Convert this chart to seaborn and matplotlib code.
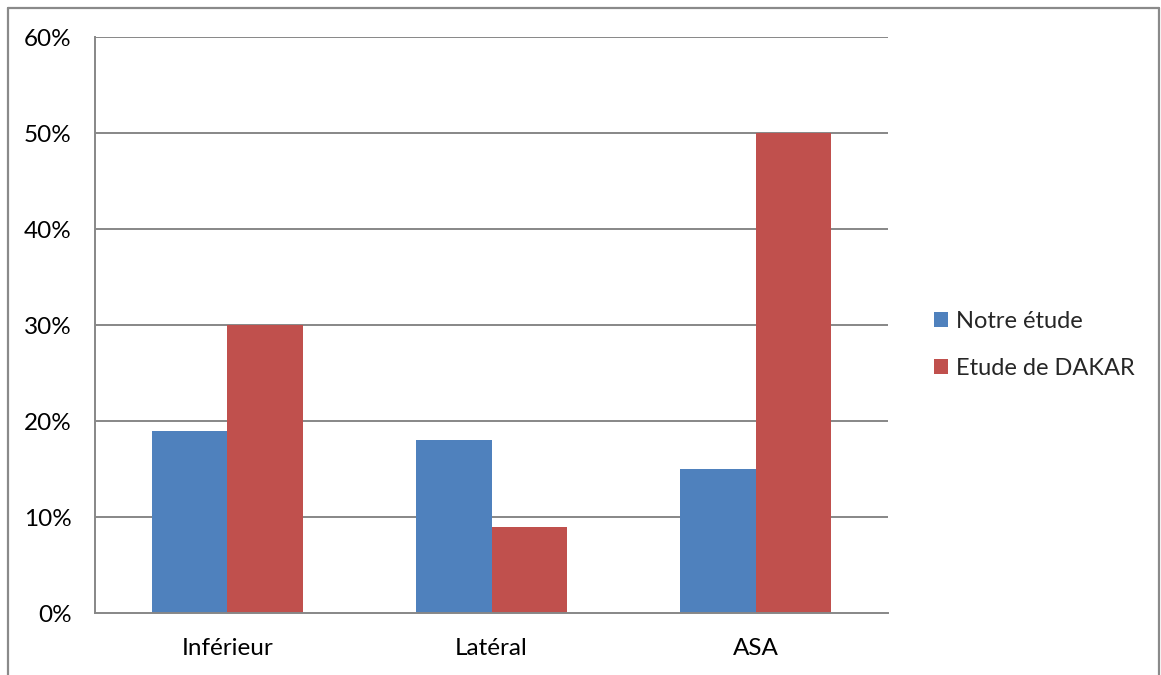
import matplotlib
matplotlib.use("Agg")
import matplotlib.pyplot as plt
from matplotlib.lines import Line2D
from matplotlib.patches import Patch
import seaborn as sns
import pandas as pd

# Données
categories = ["Inférieur", "Latéral", "ASA"]
notre_etude = [19, 18, 15]
etude_dakar = [30, 9, 50]
series_names = ["Notre étude", "Etude de DAKAR"]
y_ticks = [0, 10, 20, 30, 40, 50, 60]

df = pd.DataFrame({
    "categorie": categories * 2,
    "valeur": notre_etude + etude_dakar,
    "serie": [series_names[0]] * 3 + [series_names[1]] * 3,
})

sns.set_style("white")
plt.rcParams["font.family"] = ["Lato", "DejaVu Sans"]
FS = 17.5

W, H = 1161, 675
fig = plt.figure(figsize=(W / 100, H / 100), dpi=100)
ax = fig.add_axes([95 / W, 62 / H, (888 - 95) / W, 576 / H])

palette = {series_names[0]: "#4F81BD", series_names[1]: "#C0504D"}
sns.barplot(data=df, x="categorie", y="valeur", hue="serie", order=categories,
            hue_order=series_names, palette=palette, width=0.5714, gap=0,
            saturation=1, linewidth=0, ax=ax, legend=False)

grid_c = "#878787"
ax.set_xlim(-0.5, 2.5)
ax.set_ylim(0, 60)
ax.set_yticks(y_ticks)
ax.set_yticklabels([f"{v}%" for v in y_ticks])
for v in y_ticks[1:]:
    ax.axhline(v, color=grid_c, lw=1.4, zorder=0)
ax.set_axisbelow(True)

# ticks at category boundaries
ax.set_xticks([-0.5, 0.5, 1.5, 2.5])
ax.set_xticklabels([])
ax.set_xticks([0, 1, 2], minor=True)
ax.set_xticklabels(categories, minor=True)
ax.tick_params(axis="x", which="minor", length=0, pad=18, labelsize=FS, labelcolor="black")
ax.tick_params(axis="x", which="major", length=5, width=1.2, color=grid_c, direction="out")
ax.tick_params(axis="y", length=5, width=1.2, color=grid_c, direction="out", pad=12,
               labelsize=FS, labelcolor="black")
ax.set_xlabel("")
ax.set_ylabel("")

for s in ["top", "right"]:
    ax.spines[s].set_visible(False)
for s in ["left", "bottom"]:
    ax.spines[s].set_color(grid_c)
    ax.spines[s].set_linewidth(1.4)

# legend
handles = [Patch(facecolor=palette[n], edgecolor="none") for n in series_names]
fig.legend(handles, series_names, loc="center left", bbox_to_anchor=(913 / W, 1 - 345 / H),
           frameon=False, fontsize=17, handlelength=0.6, handleheight=0.6,
           handletextpad=0.3, labelspacing=1.12)

# outer frame
fc = "#8a8a8a"
fig.add_artist(Line2D([7.5 / W, 7.5 / W], [0, 1 - 7.5 / H], color=fc, lw=1.6, transform=fig.transFigure))
fig.add_artist(Line2D([7.5 / W, 1158.5 / W], [1 - 7.5 / H, 1 - 7.5 / H], color=fc, lw=1.6, transform=fig.transFigure))
fig.add_artist(Line2D([1158.5 / W, 1158.5 / W], [0, 1 - 7.5 / H], color=fc, lw=1.6, transform=fig.transFigure))

fig.savefig("out.png", dpi=100)
